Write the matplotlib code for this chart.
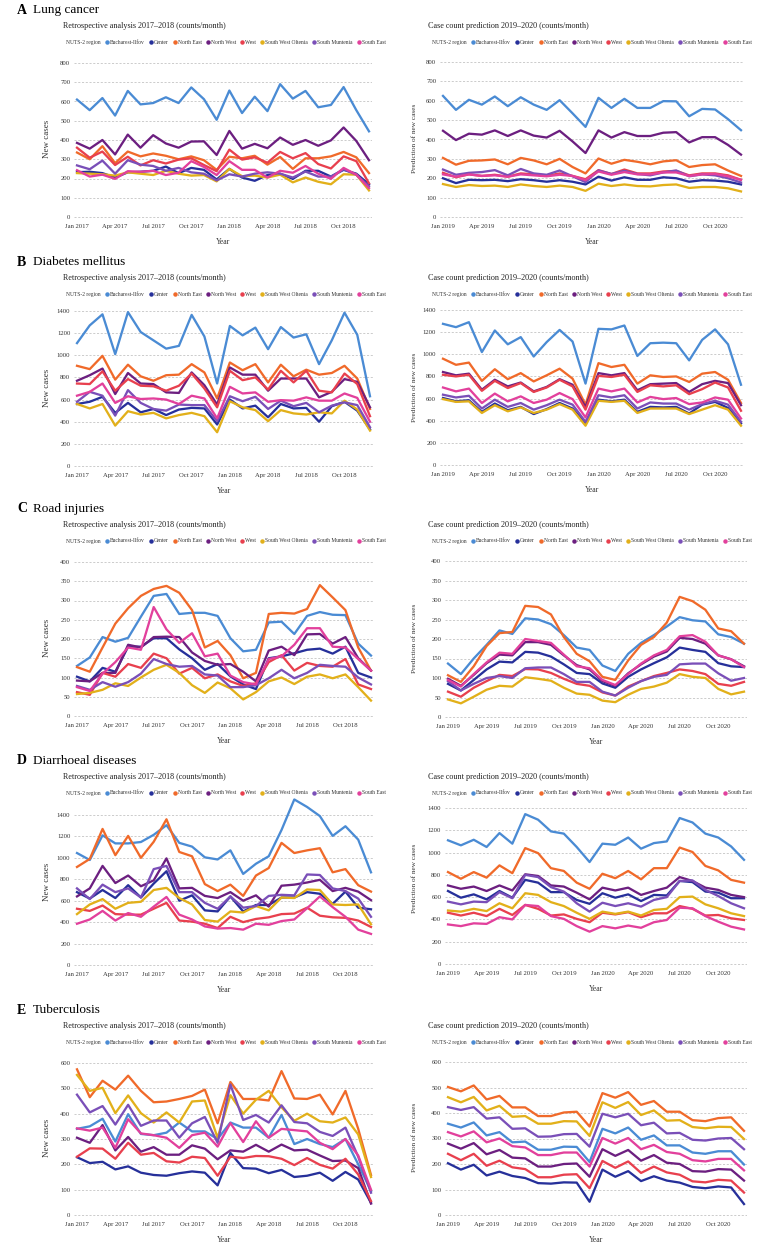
import matplotlib
matplotlib.use("Agg")
import matplotlib.pyplot as plt
from matplotlib.lines import Line2D

W, H = 769, 1246
plt.rcParams['font.family'] = ['Liberation Serif', 'DejaVu Serif']

regions = ["Bucharest-Ilfov", "Center", "North East", "North West", "West",
           "South West Oltenia", "South Muntenia", "South East"]
colors = ["#4a8bd4", "#26309a", "#f06a2a", "#6c1f80", "#e8404e",
          "#e2b01a", "#7a4fb8", "#e2409c"]

retro_ticks = ["Jan 2017", "Apr 2017", "Jul 2017", "Oct 2017",
               "Jan 2018", "Apr 2018", "Jul 2018", "Oct 2018"]
pred_ticks = ["Jan 2019", "Apr 2019", "Jul 2019", "Oct 2019",
              "Jan 2020", "Apr 2020", "Jul 2020", "Oct 2020"]

# ---- A: lung cancer ----
lung_retro = {
    "Bucharest-Ilfov": [610, 555, 618, 527, 655, 585, 592, 622, 592, 673, 612, 505, 657, 540, 625, 550, 690, 615, 655, 570, 582, 675, 555, 445],
    "Center": [233, 235, 228, 205, 232, 235, 240, 262, 228, 255, 245, 195, 250, 205, 188, 218, 225, 198, 240, 240, 210, 245, 225, 170],
    "North East": [335, 300, 368, 280, 340, 315, 330, 318, 300, 315, 295, 245, 313, 305, 318, 272, 312, 250, 305, 305, 315, 338, 310, 228],
    "North West": [385, 355, 400, 325, 428, 360, 425, 382, 360, 392, 393, 322, 447, 355, 380, 357, 413, 375, 400, 370, 398, 465, 395, 295],
    "West": [360, 308, 340, 270, 313, 268, 295, 278, 298, 305, 270, 238, 350, 298, 310, 282, 338, 305, 332, 275, 252, 315, 290, 175],
    "South West Oltenia": [228, 225, 222, 215, 232, 225, 218, 240, 225, 215, 218, 185, 250, 212, 215, 205, 220, 180, 205, 183, 170, 222, 220, 138],
    "South Muntenia": [268, 248, 293, 225, 295, 272, 265, 240, 255, 232, 225, 190, 222, 210, 225, 232, 225, 205, 236, 210, 210, 248, 220, 160],
    "South East": [243, 210, 220, 198, 238, 235, 240, 218, 230, 290, 260, 218, 290, 245, 245, 205, 240, 230, 265, 225, 198, 255, 220, 150],
}
lung_pred = {
    "Bucharest-Ilfov": [625, 553, 605, 580, 622, 572, 618, 580, 553, 603, 535, 465, 615, 563, 610, 563, 563, 598, 597, 520, 558, 555, 505, 448],
    "Center": [200, 175, 192, 190, 192, 185, 195, 190, 182, 190, 182, 168, 208, 188, 205, 192, 192, 205, 200, 182, 190, 188, 182, 168],
    "North East": [305, 270, 290, 292, 297, 272, 305, 292, 272, 300, 258, 225, 302, 275, 295, 285, 272, 287, 293, 258, 268, 272, 240, 212],
    "North West": [445, 397, 430, 425, 447, 418, 447, 420, 410, 445, 390, 330, 447, 410, 438, 418, 418, 435, 438, 385, 412, 412, 372, 322],
    "West": [228, 205, 220, 212, 218, 208, 225, 220, 212, 225, 212, 195, 242, 222, 245, 225, 225, 235, 238, 215, 225, 225, 215, 192],
    "South West Oltenia": [170, 155, 165, 160, 162, 155, 168, 160, 155, 162, 155, 135, 172, 160, 168, 160, 158, 165, 168, 150, 155, 155, 148, 132],
    "South Muntenia": [245, 218, 228, 232, 242, 215, 248, 225, 218, 240, 210, 180, 240, 222, 238, 222, 215, 230, 240, 210, 220, 215, 200, 178],
    "South East": [220, 208, 220, 212, 215, 208, 220, 215, 210, 218, 212, 190, 235, 218, 232, 220, 220, 230, 230, 212, 220, 222, 210, 192],
}

# ---- B: diabetes mellitus ----
diab_retro = {
    "Bucharest-Ilfov": [1110, 1270, 1370, 1010, 1390, 1210, 1135, 1060, 1085, 1365, 1170, 745, 1265, 1180, 1250, 1055, 1255, 1160, 1190, 920, 1135, 1385, 1185, 630],
    "Center": [560, 580, 625, 480, 570, 485, 515, 460, 510, 525, 520, 375, 600, 520, 545, 440, 560, 520, 525, 400, 540, 580, 500, 330],
    "North East": [905, 875, 995, 780, 915, 810, 770, 820, 825, 920, 845, 610, 935, 865, 920, 755, 915, 810, 870, 825, 840, 905, 790, 515],
    "North West": [770, 820, 880, 650, 840, 745, 740, 665, 660, 845, 730, 555, 890, 825, 825, 680, 790, 790, 790, 620, 670, 785, 760, 530],
    "West": [745, 740, 855, 680, 785, 725, 720, 680, 725, 835, 700, 530, 860, 775, 800, 690, 860, 755, 860, 680, 665, 835, 740, 450],
    "South West Oltenia": [560, 520, 560, 365, 495, 465, 480, 430, 460, 480, 450, 305, 585, 530, 505, 405, 505, 475, 465, 485, 475, 590, 510, 320],
    "South Muntenia": [580, 670, 635, 455, 685, 570, 515, 500, 555, 550, 550, 405, 630, 585, 625, 515, 590, 540, 570, 485, 545, 575, 550, 350],
    "South East": [635, 670, 745, 570, 630, 605, 610, 600, 560, 635, 610, 430, 715, 655, 665, 580, 595, 590, 620, 590, 590, 655, 615, 400],
}
diab_pred = {
    "Bucharest-Ilfov": [1275, 1245, 1290, 1020, 1215, 1090, 1155, 980, 1110, 1220, 1115, 735, 1230, 1225, 1260, 985, 1100, 1105, 1100, 945, 1130, 1225, 1090, 725],
    "Center": [605, 575, 585, 480, 555, 495, 525, 460, 505, 560, 510, 375, 590, 575, 590, 480, 525, 520, 525, 465, 545, 570, 515, 375],
    "North East": [960, 905, 925, 760, 865, 775, 830, 755, 810, 870, 780, 545, 920, 885, 905, 735, 810, 795, 800, 750, 825, 840, 770, 560],
    "North West": [840, 810, 825, 680, 770, 710, 745, 665, 705, 775, 725, 525, 830, 810, 830, 675, 730, 735, 740, 660, 730, 760, 740, 540],
    "West": [815, 800, 815, 670, 760, 695, 740, 660, 700, 770, 710, 500, 805, 795, 815, 660, 720, 710, 720, 640, 685, 745, 700, 490],
    "South West Oltenia": [595, 570, 575, 470, 540, 485, 520, 470, 500, 550, 500, 355, 580, 570, 580, 470, 510, 510, 510, 460, 500, 540, 500, 355],
    "South Muntenia": [635, 610, 625, 510, 590, 525, 560, 500, 540, 590, 545, 390, 630, 610, 630, 510, 565, 555, 555, 500, 550, 580, 545, 390],
    "South East": [700, 665, 690, 560, 645, 575, 620, 560, 590, 650, 595, 430, 690, 665, 690, 565, 615, 595, 605, 550, 565, 610, 590, 420],
}

# ---- C: road injuries ----
road_retro = {
    "Bucharest-Ilfov": [130, 152, 205, 193, 203, 258, 312, 317, 265, 268, 268, 260, 202, 168, 172, 243, 245, 213, 260, 270, 263, 262, 188, 157],
    "Center": [102, 90, 125, 115, 180, 180, 202, 202, 173, 150, 120, 135, 103, 82, 70, 150, 155, 163, 172, 175, 162, 180, 112, 100],
    "North East": [127, 115, 178, 240, 280, 312, 330, 338, 320, 275, 178, 195, 158, 98, 112, 265, 268, 266, 278, 340, 308, 275, 178, 118],
    "North West": [92, 90, 112, 112, 185, 178, 205, 206, 205, 165, 143, 133, 135, 115, 90, 170, 180, 158, 212, 213, 188, 205, 150, 118],
    "West": [62, 55, 112, 102, 135, 125, 162, 150, 110, 125, 98, 108, 90, 78, 85, 140, 158, 118, 138, 130, 128, 148, 82, 70],
    "South West Oltenia": [57, 60, 68, 85, 78, 100, 120, 133, 112, 80, 60, 87, 72, 43, 62, 90, 100, 83, 102, 108, 98, 108, 75, 40],
    "South Muntenia": [78, 68, 88, 76, 88, 110, 148, 135, 128, 130, 108, 105, 75, 75, 80, 98, 120, 98, 112, 133, 130, 128, 100, 82],
    "South East": [75, 65, 110, 140, 178, 172, 283, 225, 190, 215, 155, 162, 105, 88, 82, 148, 155, 185, 228, 228, 180, 178, 148, 118],
}
road_pred = {
    "Bucharest-Ilfov": [137, 110, 150, 185, 222, 213, 253, 250, 238, 210, 178, 172, 132, 118, 162, 190, 210, 232, 256, 248, 245, 212, 205, 188],
    "Center": [85, 68, 95, 122, 142, 140, 167, 165, 155, 135, 113, 110, 86, 75, 103, 122, 138, 153, 178, 172, 167, 138, 130, 128],
    "North East": [107, 90, 130, 182, 215, 218, 285, 282, 263, 205, 162, 143, 103, 95, 145, 185, 205, 242, 308, 297, 275, 227, 220, 188],
    "North West": [98, 80, 108, 138, 160, 158, 192, 192, 185, 158, 133, 122, 92, 80, 112, 135, 155, 168, 203, 200, 188, 158, 148, 130],
    "West": [65, 52, 75, 92, 108, 105, 123, 122, 113, 98, 85, 80, 63, 55, 78, 92, 105, 113, 122, 118, 110, 85, 80, 90],
    "South West Oltenia": [45, 35, 52, 70, 80, 78, 102, 98, 93, 75, 60, 57, 42, 38, 57, 72, 78, 88, 110, 103, 100, 72, 58, 65],
    "South Muntenia": [92, 68, 85, 100, 105, 100, 125, 127, 127, 110, 90, 90, 65, 55, 75, 92, 103, 108, 135, 137, 137, 112, 93, 100],
    "South East": [95, 78, 110, 140, 165, 162, 200, 195, 190, 160, 130, 125, 95, 82, 110, 137, 158, 172, 207, 210, 193, 158, 148, 128],
}

# ---- D: diarrhoeal diseases ----
diarr_retro = {
    "Bucharest-Ilfov": [1045, 980, 1210, 1135, 1135, 1148, 1215, 1305, 1140, 1105, 1005, 985, 1070, 850, 945, 1015, 1260, 1545, 1475, 1390, 1205, 1295, 1170, 865],
    "Center": [680, 620, 700, 625, 745, 630, 760, 875, 600, 650, 510, 500, 640, 500, 560, 560, 630, 630, 680, 665, 570, 685, 535, 520],
    "North East": [915, 990, 1270, 1025, 1205, 1000, 1150, 1360, 1055, 1015, 755, 690, 750, 645, 835, 905, 1140, 1045, 1070, 1090, 865, 895, 745, 685],
    "North West": [640, 715, 925, 765, 835, 735, 790, 995, 715, 720, 645, 625, 680, 600, 650, 545, 740, 750, 770, 795, 690, 720, 685, 605],
    "West": [525, 505, 555, 475, 470, 470, 525, 580, 415, 405, 385, 345, 450, 400, 430, 445, 475, 480, 535, 460, 445, 440, 415, 355],
    "South West Oltenia": [475, 565, 615, 525, 580, 590, 700, 720, 625, 565, 420, 405, 500, 490, 550, 510, 630, 625, 705, 700, 565, 560, 565, 380],
    "South Muntenia": [715, 615, 750, 680, 715, 630, 895, 925, 680, 680, 580, 525, 640, 535, 550, 645, 655, 650, 845, 840, 715, 690, 620, 450],
    "South East": [385, 425, 505, 415, 485, 450, 545, 635, 470, 425, 360, 340, 345, 330, 385, 375, 410, 425, 530, 640, 540, 450, 330, 290],
}
diarr_pred = {
    "Bucharest-Ilfov": [1110, 1065, 1115, 1050, 1175, 1080, 1345, 1295, 1190, 1170, 1050, 915, 1080, 1070, 1135, 1035, 1085, 1100, 1310, 1270, 1170, 1135, 1055, 935],
    "Center": [655, 595, 625, 580, 655, 595, 755, 730, 645, 645, 575, 540, 635, 595, 625, 565, 620, 615, 745, 735, 650, 640, 590, 590],
    "North East": [825, 765, 825, 775, 885, 815, 1040, 995, 860, 835, 730, 675, 810, 770, 835, 760, 860, 860, 1045, 1005, 880, 840, 755, 730],
    "North West": [705, 675, 695, 655, 705, 660, 805, 790, 705, 695, 640, 580, 685, 660, 685, 620, 655, 685, 780, 745, 685, 665, 620, 600],
    "West": [460, 435, 460, 430, 495, 440, 530, 495, 435, 445, 405, 375, 460, 445, 465, 420, 455, 455, 520, 495, 435, 440, 410, 395],
    "South West Oltenia": [480, 470, 495, 475, 545, 500, 635, 620, 555, 520, 460, 405, 470, 450, 470, 435, 485, 495, 600, 605, 535, 500, 455, 430],
    "South Muntenia": [560, 535, 560, 555, 645, 590, 800, 780, 690, 650, 545, 470, 550, 520, 545, 515, 575, 600, 745, 750, 665, 610, 545, 500],
    "South East": [355, 340, 365, 360, 420, 400, 530, 520, 430, 405, 340, 290, 340, 320, 345, 325, 375, 395, 505, 500, 430, 380, 335, 310],
}

# ---- E: tuberculosis ----
tb_retro = {
    "Bucharest-Ilfov": [340, 350, 380, 290, 398, 320, 315, 325, 365, 330, 330, 300, 365, 345, 345, 305, 395, 280, 300, 280, 268, 300, 200, 95],
    "Center": [228, 205, 210, 180, 192, 167, 158, 155, 165, 172, 167, 117, 245, 185, 183, 165, 178, 150, 155, 167, 135, 170, 140, 48],
    "North East": [575, 465, 530, 495, 550, 490, 445, 448, 458, 470, 495, 362, 525, 458, 458, 452, 568, 460, 458, 475, 397, 490, 340, 158],
    "North West": [305, 285, 355, 255, 308, 250, 268, 238, 238, 275, 262, 220, 255, 250, 277, 250, 278, 255, 258, 235, 213, 215, 185, 45],
    "West": [230, 263, 262, 222, 285, 238, 245, 212, 207, 230, 225, 155, 230, 225, 233, 232, 222, 197, 225, 198, 183, 222, 160, 55],
    "South West Oltenia": [553, 490, 502, 402, 472, 402, 365, 405, 365, 448, 452, 305, 473, 400, 455, 490, 425, 372, 400, 370, 365, 385, 318, 150],
    "South Muntenia": [475, 405, 430, 357, 435, 352, 373, 373, 305, 362, 387, 285, 515, 375, 395, 365, 433, 367, 362, 328, 312, 345, 230, 88],
    "South East": [342, 333, 345, 265, 378, 322, 315, 305, 265, 315, 325, 270, 363, 288, 370, 305, 340, 335, 330, 285, 260, 300, 235, 100],
}
tb_pred = {
    "Bucharest-Ilfov": [358, 343, 363, 312, 325, 285, 288, 256, 256, 268, 267, 208, 338, 320, 343, 295, 312, 273, 273, 245, 240, 250, 250, 198],
    "Center": [203, 178, 197, 155, 170, 153, 145, 125, 123, 128, 127, 52, 178, 150, 172, 133, 152, 135, 127, 110, 105, 112, 108, 43],
    "North East": [502, 485, 508, 453, 467, 422, 422, 388, 388, 402, 405, 347, 478, 460, 482, 432, 447, 405, 405, 372, 368, 380, 383, 330],
    "North West": [280, 260, 282, 238, 255, 225, 222, 190, 190, 200, 202, 150, 258, 232, 255, 213, 235, 205, 200, 172, 170, 180, 178, 135],
    "West": [240, 215, 240, 193, 213, 187, 180, 148, 148, 158, 160, 105, 212, 185, 210, 165, 190, 167, 158, 132, 128, 138, 135, 88],
    "South West Oltenia": [462, 442, 463, 410, 428, 385, 388, 358, 358, 368, 367, 310, 442, 420, 443, 392, 410, 370, 372, 345, 340, 346, 345, 298],
    "South Muntenia": [423, 412, 423, 378, 383, 338, 340, 307, 308, 317, 318, 268, 397, 383, 397, 352, 362, 320, 322, 295, 292, 300, 302, 258],
    "South East": [325, 308, 328, 285, 300, 270, 265, 235, 235, 245, 245, 190, 302, 280, 302, 258, 275, 247, 240, 215, 210, 220, 220, 175],
}

# panel layout in pixels: heading y, (x first, x last, y of top tick, y of 0) left / right
rows = [
    ("A", "Lung cancer", lung_retro, lung_pred, range(0, 801, 100), 820, 10,
     (77, 369, 63, 217), (443, 741, 62, 217)),
    ("B", "Diabetes mellitus", diab_retro, diab_pred, range(0, 1401, 200), 1430, 262,
     (77, 370, 311, 466), (443, 741, 310, 465)),
    ("C", "Road injuries", road_retro, road_pred, range(0, 401, 50), 410, 509,
     (77, 371, 562, 716), (448, 744, 561, 717)),
    ("D", "Diarrhoeal diseases", diarr_retro, diarr_pred, range(0, 1401, 200), 1570, 761,
     (77, 371, 815, 965), (448, 744, 808, 964)),
    ("E", "Tuberculosis", tb_retro, tb_pred, range(0, 601, 100), 615, 1010,
     (77, 371, 1063, 1215), (448, 744, 1062, 1215)),
]

fig = plt.figure(figsize=(W / 100, H / 100), dpi=100)


def place(ax, geom, ytop_val, ymax):
    x0, x1, ytop, yzero = geom
    xl = (-0.2, 23.2)
    ppm = (x1 - x0) / 23
    left = x0 + xl[0] * ppm
    right = x0 + xl[1] * ppm
    ppv = (yzero - ytop) / ytop_val
    ylo = -ymax * 0.015
    top = yzero - ymax * ppv
    bot = yzero - ylo * ppv
    ax.set_position([left / W, 1 - bot / H, (right - left) / W, (bot - top) / H])
    ax.set_xlim(xl)
    ax.set_ylim(ylo, ymax)
    return left, right, yzero, top, bot


handles = [Line2D([], [], marker='o', ls='none', color=c, markersize=2.2) for c in colors]

for letter, disease, retro, pred, yt, ymax, hy, gl, gr in rows:
    fig.text(17 / W, 1 - hy / H, letter, fontsize=10, fontweight='bold', va='center')
    fig.text(33 / W, 1 - hy / H, disease, fontsize=9.5, va='center')
    for data, geom, sub, ticks, ylab, sx, lx, yl_x, ylab_fs in [
        (retro, gl, "Retrospective analysis 2017\u20132018 (counts/month)", retro_ticks, "New cases", 63, 66, 51, 6.5),
        (pred, gr, "Case count prediction 2019\u20132020 (counts/month)", pred_ticks, "Prediction of new cases", 428, 432, 417, 5.2),
    ]:
        ax = fig.add_axes([0, 0, 1, 1])
        yt = list(yt)
        left, right, yzero, top, bot = place(ax, geom, yt[-1], ymax)
        for r, c in zip(regions, colors):
            ax.plot(range(24), data[r], color=c, lw=1.65)
        ax.set_yticks(yt)
        ax.set_xticks(range(0, 24, 3))
        ax.set_xticklabels(ticks)
        ax.grid(axis='y', ls=(0, (2.5, 2)), color='#c4c4c4', lw=0.6)
        ax.set_axisbelow(True)
        for s in ax.spines.values():
            s.set_visible(False)
        ax.tick_params(length=0, labelsize=4.8, pad=3, colors='#333333')
        ax.set_ylabel(ylab, fontsize=ylab_fs, color='#333333')
        ax.yaxis.set_label_coords((yl_x - left) / (right - left), 0.5)
        ax.set_xlabel("Year", fontsize=5.6, color='#333333')
        ax.xaxis.set_label_coords(0.5, (bot - (yzero + 21)) / (bot - top))
        # subtitle and legend
        fig.text(sx / W, 1 - (hy + 16) / H, sub, fontsize=5.9, va='center', color='#222222')
        ly = hy + 32
        fig.text(lx / W, 1 - (ly + 0.8) / H, "NUTS-2 region", fontsize=4, va='center', color='#333333')
        fig.legend(handles, regions, loc='center left', bbox_to_anchor=((lx + 38) / W, 1 - ly / H),
                   ncol=8, frameon=False, fontsize=4, handletextpad=0.1, columnspacing=0.55,
                   handlelength=1.0, borderpad=0, borderaxespad=0, labelcolor='#333333')

fig.savefig("out.png", dpi=100)
